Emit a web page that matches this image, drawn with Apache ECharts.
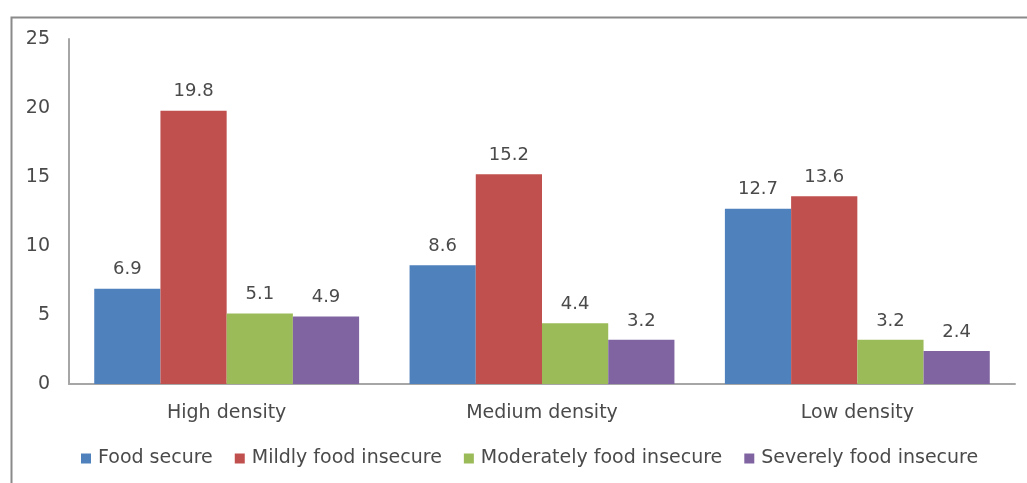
<!DOCTYPE html>
<html><head><meta charset="utf-8">
<script src="https://cdn.jsdelivr.net/npm/echarts@6/dist/echarts.min.js"></script>
<style>html,body{margin:0;padding:0;background:#fff}#c{width:1027px;height:483px}</style>
</head><body><div id="c"></div>
<script>
const categories = ["High density", "Medium density", "Low density"];
const seriesNames = ["Food secure", "Mildly food insecure", "Moderately food insecure", "Severely food insecure"];
const foodSecure = [6.9, 8.6, 12.7];
const mildlyInsecure = [19.8, 15.2, 13.6];
const moderatelyInsecure = [5.1, 4.4, 3.2];
const severelyInsecure = [4.9, 3.2, 2.4];
const yTicks = [0, 5, 10, 15, 20, 25];

const colors = ["#4F81BD", "#C0504D", "#9BBB59", "#8064A2"];
const values = [foodSecure, mildlyInsecure, moderatelyInsecure, severelyInsecure];
const font = "'DejaVu Sans', sans-serif";
const textColor = '#4a4a4a';

const chart = echarts.init(document.getElementById('c'), null, {renderer: 'canvas'});
chart.setOption({
  animation: false,
  color: colors,
  textStyle: {fontFamily: font},
  graphic: [{
    type: 'rect', left: 9, top: 15, z: -1,
    shape: {width: 1040, height: 500},
    style: {fill: 'none', stroke: '#8a8a8a', lineWidth: 2}
  }],
  grid: {left: 69, right: 12, top: 39, bottom: 99},
  legend: {
    bottom: 10, left: 76,
    itemWidth: 10, itemHeight: 10, itemGap: 22,
    icon: 'rect',
    textStyle: {fontSize: 19, color: textColor, fontFamily: font, padding: [0,0,0,2]},
    data: seriesNames
  },
  xAxis: {
    type: 'category', data: categories,
    axisLine: {lineStyle: {color: '#a6a6a6', width: 2}},
    axisTick: {show: false},
    axisLabel: {fontSize: 19, color: textColor, margin: 20, fontFamily: font}
  },
  yAxis: {
    type: 'value', min: yTicks[0], max: yTicks[yTicks.length-1], interval: 5,
    axisLine: {show: true, lineStyle: {color: '#a6a6a6', width: 2}},
    axisTick: {show: false},
    splitLine: {show: false},
    axisLabel: {fontSize: 19, color: textColor, margin: 19, fontFamily: font}
  },
  series: seriesNames.map((n, i) => ({
    name: n, type: 'bar', data: values[i],
    barGap: '0%', barCategoryGap: '16%',
    label: {show: true, position: 'top', distance: 10, fontSize: 18, color: textColor, fontFamily: font}
  }))
});
</script></body></html>
